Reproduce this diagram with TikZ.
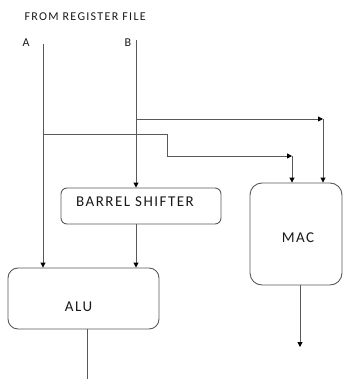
\documentclass[tikz,border=0pt]{standalone}
\usepackage{fontspec}
\setmainfont{Carlito}
\newfontfamily\lblfont[LetterSpace=10]{Carlito}
\newfontfamily\smfont[LetterSpace=11]{Carlito}
\usetikzlibrary{arrows.meta}
\begin{document}
\begin{tikzpicture}[x=1pt,y=-1pt,
  wire/.style={draw=black!65, line width=0.9pt},
  arr/.style={wire, -{Triangle[length=5pt,width=5pt,fill=black,color=black]}},
  blk/.style={draw=black!65, line width=0.9pt, inner sep=0pt},
  txt/.style={font=\lblfont\fontsize{15}{17}\selectfont, text=black!90},
  small/.style={font=\smfont\fontsize{12}{14}\selectfont, text=black!90}]
\useasboundingbox (0,0) rectangle (343,379);
% labels
\node[small, anchor=west] (title) at (21,17) {FROM REGISTER FILE};
\node[small] (la) at (26,43) {A};
\node[small] (lb) at (128,43) {B};
% blocks
\node[blk, rounded corners=6pt, minimum width=160pt, minimum height=36pt,
  label={[txt,xshift=-6pt,yshift=4pt]center:BARREL SHIFTER}] (bs) at (141,206) {};
\node[blk, rounded corners=10pt, minimum width=151pt, minimum height=61pt,
  label={[txt,xshift=-5pt,yshift=-8.5pt]center:ALU}] (alu) at (83.5,298.5) {};
\node[blk, rounded corners=12pt, minimum width=92pt, minimum height=102pt,
  label={[txt,xshift=2pt,yshift=-4pt]center:MAC}] (mac) at (296,234) {};
% coordinates
\coordinate (atop) at (43,44);
\coordinate (btop) at (136,40);
\coordinate (bbr) at (136,119);
\coordinate (c1) at (323,119);
\coordinate (abr) at (43,134);
\coordinate (k1) at (167,134);
\coordinate (k2) at (167,156);
\coordinate (c2) at (292,156);
\coordinate (macout) at (300,347);
\coordinate (aluout) at (87,379);
% connectors
\draw[arr] (atop) -- (atop |- alu.north);
\draw[arr] (btop) -- (btop |- bs.north);
\draw[arr] (btop |- bs.south) -- (btop |- alu.north);
\draw[arr] (bbr) -- (c1);
\draw[arr] (c1) -- (c1 |- mac.north);
\draw[arr] (abr) -- (k1) -- (k2) -- (c2);
\draw[arr] (c2) -- (c2 |- mac.north);
\draw[arr] (macout |- mac.south) -- (macout);
\draw[wire] (aluout |- alu.south) -- (aluout);
\end{tikzpicture}
\end{document}
